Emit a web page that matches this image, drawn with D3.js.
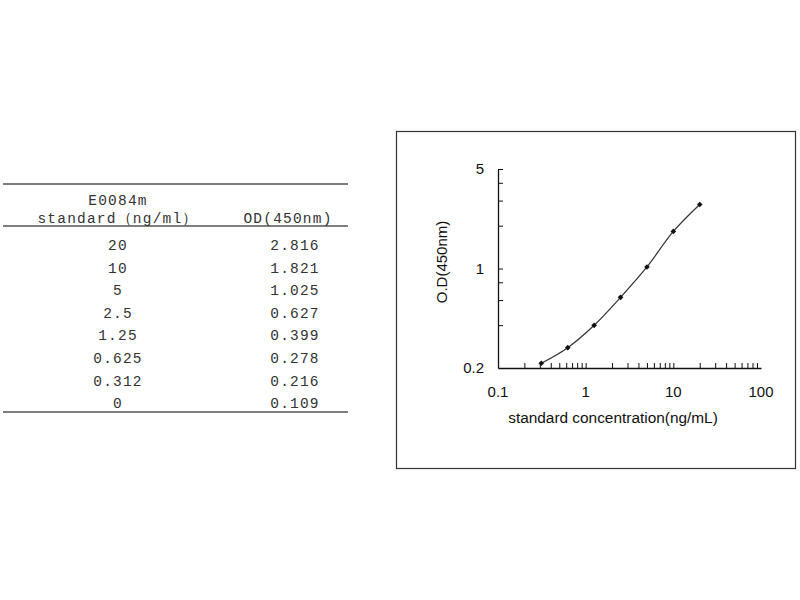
<!DOCTYPE html>
<html>
<head>
<meta charset="utf-8">
<script src="https://cdn.jsdelivr.net/npm/d3@7"></script>
<style>
  body { margin: 0; background: #fff; }
  svg { display: block; }
</style>
</head>
<body>
<div id="chart"></div>
<script>
// standard curve data (table rows, top to bottom)
const concLabels = ["20", "10", "5", "2.5", "1.25", "0.625", "0.312", "0"];
const concentrations = [20, 10, 5, 2.5, 1.25, 0.625, 0.312, 0];
const odValues = [2.816, 1.821, 1.025, 0.627, 0.399, 0.278, 0.216, 0.109];
const xTickLabels = [0.1, 1, 10, 100];
const yTickLabels = [0.2, 1, 5];
const yMinorTicks = [0.4, 0.6, 0.8, 2, 3, 4];

const width = 800, height = 600;

const svg = d3.select("#chart")
              .append("svg")
              .attr("width", width)
              .attr("height", height);

// ---- table on the left ----
const table = svg.append("g")
                 .attr("font-family", "'Liberation Mono', 'DejaVu Sans Mono', monospace")
                 .attr("font-size", 14.5)
                 .attr("letter-spacing", 1.2)
                 .attr("fill", "#333");

const rowY = d3.scaleLinear().domain([0, concLabels.length - 1]).range([245, 403]);

[184, 226, 412].forEach(function(y) {
    table.append("line")
         .attr("x1", 3).attr("x2", 348)
         .attr("y1", y).attr("y2", y)
         .attr("stroke", "#555")
         .attr("stroke-width", 1.5);
});

table.append("text").attr("x", 118).attr("y", 200).attr("dy", "0.35em")
     .attr("text-anchor", "middle").text("E0084m");
table.append("text").attr("x", 118).attr("y", 218).attr("dy", "0.35em")
     .attr("text-anchor", "middle").text("standard（ng/ml）");
table.append("text").attr("x", 288).attr("y", 218).attr("dy", "0.35em")
     .attr("text-anchor", "middle").text("OD(450nm)");

table.selectAll(".conc")
     .data(concLabels)
     .enter()
     .append("text")
     .attr("class", "conc")
     .attr("x", 118)
     .attr("y", function(d, i) { return rowY(i); })
     .attr("dy", "0.35em")
     .attr("text-anchor", "middle")
     .text(function(d) { return d; });

table.selectAll(".od")
     .data(odValues)
     .enter()
     .append("text")
     .attr("class", "od")
     .attr("x", 295)
     .attr("y", function(d, i) { return rowY(i); })
     .attr("dy", "0.35em")
     .attr("text-anchor", "middle")
     .text(function(d) { return d.toFixed(3); });

// ---- chart on the right ----
svg.append("rect")
   .attr("x", 396.5).attr("y", 131.5)
   .attr("width", 399).attr("height", 337)
   .attr("fill", "none")
   .attr("stroke", "#333")
   .attr("stroke-width", 1.2);

const x = d3.scaleLog().domain([0.1, 100]).range([498, 761]);
const y = d3.scaleLog().domain([0.2, 5]).range([368, 169]);

const chart = svg.append("g")
                 .attr("font-family", "'Liberation Sans', Arial, sans-serif")
                 .attr("fill", "#111");

// x axis: line at the bottom, ticks pointing up
const xTicks = [];
[0.1, 1, 10].forEach(function(dec) {
    for (let k = 2; k <= 9; k++) xTicks.push(dec * k);
});
xTicks.push(1, 10);

const xAxis = d3.axisTop(x)
                .tickValues(xTicks)
                .tickSizeInner(5)
                .tickSizeOuter(0)
                .tickFormat("");

chart.append("g")
     .attr("transform", "translate(0," + 368 + ")")
     .call(xAxis)
     .call(function(g) {
         g.select(".domain").attr("stroke", "#111").attr("stroke-width", 1.3);
         g.selectAll(".tick line").attr("stroke", "#111");
     });

chart.selectAll(".xlab")
     .data(xTickLabels)
     .enter()
     .append("text")
     .attr("class", "xlab")
     .attr("x", function(d) { return x(d); })
     .attr("y", 392)
     .attr("dy", "0.35em")
     .attr("text-anchor", "middle")
     .attr("font-size", 15)
     .text(function(d) { return d; });

// y axis: line on the left, ticks pointing right
const yAxis = d3.axisRight(y)
                .tickValues(yMinorTicks.concat([1, 5]))
                .tickSizeInner(5)
                .tickSizeOuter(0)
                .tickFormat("");

chart.append("g")
     .attr("transform", "translate(" + 498 + ",0)")
     .call(yAxis)
     .call(function(g) {
         g.select(".domain").attr("stroke", "#111").attr("stroke-width", 1.3);
         g.selectAll(".tick line").attr("stroke", "#111");
     });

chart.selectAll(".ylab")
     .data(yTickLabels)
     .enter()
     .append("text")
     .attr("class", "ylab")
     .attr("x", 484)
     .attr("y", function(d) { return y(d); })
     .attr("dy", "0.35em")
     .attr("text-anchor", "end")
     .attr("font-size", 15)
     .text(function(d) { return d; });

chart.append("text")
     .attr("x", 613)
     .attr("y", 418)
     .attr("dy", "0.35em")
     .attr("text-anchor", "middle")
     .attr("font-size", 15.4)
     .text("standard concentration(ng/mL)");

chart.append("text")
     .attr("transform", "translate(442,262) rotate(-90)")
     .attr("dy", "0.35em")
     .attr("text-anchor", "middle")
     .attr("font-size", 15)
     .text("O.D(450nm)");

// curve through the standards (zero standard cannot sit on a log axis)
const points = concentrations
    .map(function(c, i) { return {c: c, od: odValues[i]}; })
    .filter(function(d) { return d.c > 0; })
    .sort(function(a, b) { return a.c - b.c; });

const line = d3.line()
               .x(function(d) { return x(d.c); })
               .y(function(d) { return y(d.od); })
               .curve(d3.curveCatmullRom.alpha(0.5));

chart.append("path")
     .datum(points)
     .attr("d", line)
     .attr("fill", "none")
     .attr("stroke", "#333")
     .attr("stroke-width", 1.2);

chart.selectAll(".pt")
     .data(points)
     .enter()
     .append("path")
     .attr("class", "pt")
     .attr("d", d3.symbol().type(d3.symbolSquare).size(16))
     .attr("transform", function(d) {
         return "translate(" + x(d.c) + "," + y(d.od) + ") rotate(45)";
     })
     .attr("fill", "#111");
</script>
</body>
</html>
